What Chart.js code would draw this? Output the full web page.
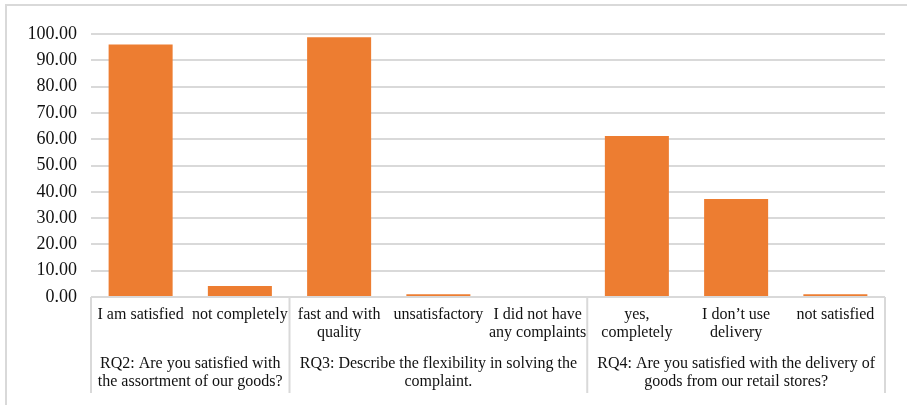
<!DOCTYPE html>
<html>
<head>
<meta charset="utf-8">
<script src="https://cdn.jsdelivr.net/npm/chart.js@4.4.0/dist/chart.umd.min.js"></script>
<style>
  html, body { margin: 0; padding: 0; background: #fff; }
  #wrap { width: 907px; height: 405px; position: relative; }
</style>
</head>
<body>
<div id="wrap"><canvas id="myChart"></canvas></div>
<script>
// answers, each one as lines of text
var categories = [
    ['I am satisfied'],
    ['not completely'],
    ['fast and with', 'quality'],
    ['unsatisfactory'],
    ['I did not have', 'any complaints'],
    ['yes,', 'completely'],
    ['I don\u2019t use', 'delivery'],
    ['not satisfied']
];
var values = [96.0, 4.2, 98.8, 1.0, 0, 61.2, 37.3, 1.0];

// questions and how many answers belong to each
var groupLabels = [
    ['RQ2: Are you satisfied with', 'the assortment of our goods?'],
    ['RQ3: Describe the flexibility in solving the', 'complaint.'],
    ['RQ4: Are you satisfied with the delivery of', 'goods from our retail stores?']
];
var groupSizes = [2, 3, 3];

var yTicks = [0, 10, 20, 30, 40, 50, 60, 70, 80, 90, 100];

var lineColor = '#d9d9d9';
var serif = '"Liberation Serif", "Times New Roman", serif';

// frame, question labels and the separators below the axis
var groupAxis = {
    id: 'groupAxis',
    beforeDraw: function (chart) {
        var c = chart.ctx;
        c.save();
        c.fillStyle = '#fff';
        c.fillRect(0, 0, chart.width, chart.height);
        c.strokeStyle = lineColor;
        c.lineWidth = 2;
        c.beginPath();
        c.moveTo(6, chart.height);
        c.lineTo(6, 5);
        c.lineTo(chart.width, 5);
        c.stroke();
        c.restore();
    },
    afterDraw: function (chart) {
        var c = chart.ctx;
        var x = chart.scales.x;
        var bottom = chart.chartArea.bottom;
        var half = (x.getPixelForValue(1) - x.getPixelForValue(0)) / 2;
        c.save();
        c.strokeStyle = lineColor;
        c.lineWidth = 2;
        c.fillStyle = '#111';
        c.font = '16px ' + serif;
        c.textAlign = 'center';
        c.textBaseline = 'middle';
        var start = 0;
        var edges = [start];
        groupSizes.forEach(function (n) { start += n; edges.push(start); });
        edges.forEach(function (i) {
            var px = x.getPixelForValue(i) - half;
            c.beginPath();
            c.moveTo(px, bottom);
            c.lineTo(px, bottom + 96);
            c.stroke();
        });
        groupLabels.forEach(function (lines, g) {
            var l = x.getPixelForValue(edges[g]) - half;
            var r = x.getPixelForValue(edges[g + 1]) - half;
            lines.forEach(function (t, k) {
                c.fillText(t, (l + r) / 2, bottom + 67 + k * 18);
            });
        });
        c.restore();
    }
};

var ctx = document.getElementById('myChart').getContext('2d');

var chart = new Chart(ctx, {
    type: 'bar',
    data: {
        labels: categories,
        datasets: [{
            data: values,
            backgroundColor: '#ED7D31',
            barPercentage: 0.645,
            categoryPercentage: 1.0
        }]
    },
    plugins: [groupAxis],
    options: {
        responsive: true,
        maintainAspectRatio: false,
        animation: false,
        layout: { padding: { left: 6, right: 22, top: 34, bottom: 0 } },
        plugins: {
            legend: { display: false },
            tooltip: { enabled: false }
        },
        scales: {
            x: {
                grid: { display: false, drawTicks: false },
                border: { display: false },
                ticks: {
                    color: '#111',
                    font: { family: serif, size: 16, lineHeight: 1.125 },
                    padding: 9,
                    maxRotation: 0,
                    autoSkip: false
                },
                afterFit: function (scale) { scale.height = 108; }
            },
            y: {
                min: 0,
                max: 100,
                afterBuildTicks: function (scale) {
                    scale.ticks = yTicks.map(function (v) { return { value: v }; });
                },
                grid: { color: lineColor, lineWidth: 2, drawTicks: false },
                border: { display: false },
                ticks: {
                    color: '#111',
                    font: { family: serif, size: 18 },
                    padding: 14,
                    callback: function (v) { return Number(v).toFixed(2); }
                },
                afterFit: function (scale) { scale.width = 85; }
            }
        }
    }
});
</script>
</body>
</html>
